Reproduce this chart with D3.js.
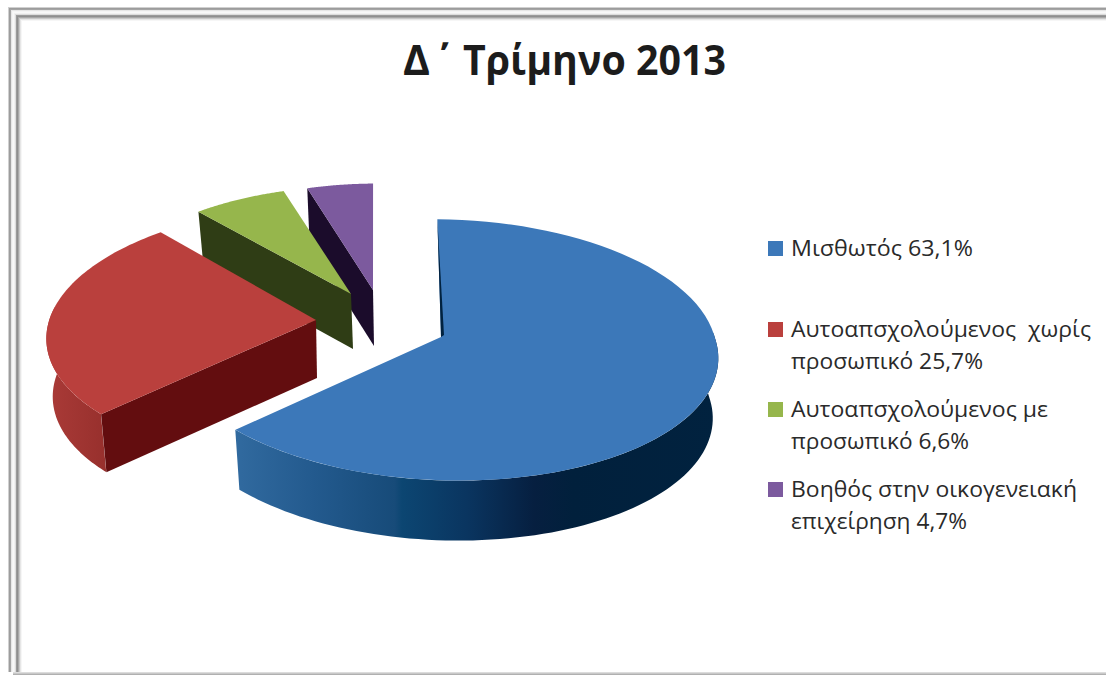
<!DOCTYPE html>
<html><head><meta charset="utf-8">
<script src="https://cdn.jsdelivr.net/npm/d3@7/dist/d3.min.js"></script>
<style>html,body{margin:0;padding:0;background:#fff}svg{display:block}text{white-space:pre}</style>
</head><body><svg id="c" width="1106" height="675"></svg>
<script>
const titleHead = "Δ";
const titleMark = "΄ ";
const titleTail = "Τρίμηνο 2013";
const categories = ["Μισθωτός","Αυτοαπσχολούμενος χωρίς προσωπικό","Αυτοαπσχολούμενος με προσωπικό","Βοηθός στην οικογενειακή επιχείρηση"];
const shares = [63.1,25.7,6.6,4.7];
const topColors = ["#3c78b9","#ba403d","#96b64c","#7c5a9e"];
const wallColors = ["#01223f","#630d0f","#2f3d15","#1b0c2b"];
const legendLines = [["Μισθωτός 63,1%"],["Αυτοαπσχολούμενος  χωρίς","προσωπικό 25,7%"],["Αυτοαπσχολούμενος με","προσωπικό 6,6%"],["Βοηθός στην οικογενειακή","επιχείρηση 4,7%"]];

// layout
const W=1106,H=675;
const slicesLayout=[
 {ax:441,ay:337,s:.995,depth:60,front:18,back:8,rot:2,dx:-1,wall:[88,228]},
 {ax:316,ay:320,s:.97,depth:58,front:-13,back:-13,rot:0,dx:0,wall:[226,276]},
 {ax:351,ay:294,s:.91,depth:55,front:-3,back:-3,rot:0,dx:1,wall:null},
 {ax:373,ay:290,s:.9,depth:56,front:-4,back:-4,rot:0,dx:0,wall:null}
];
const svg=d3.select("#c"), defs=svg.append("defs");
svg.append("rect").attr("width",W).attr("height",H).attr("fill","#fff");

// projection of the disk (perspective)
const Rx=275,Ry=130,K=0.099;
function project(L,th){
  const t=th+L.rot*Math.PI/180;
  const u=Math.sin(t),v=-Math.cos(t),d=1-K*v;
  const x=L.s*Rx*u/d+(v>0?L.front:L.back)*v, y=L.s*Ry*v/d;
  return [L.ax+x,L.ay+y];
}
function lower(L,p){
  const dx=p[0]-L.ax;
  return [L.ax+dx*.98+1+L.dx,p[1]+L.depth];
}
const off=-1*Math.PI/180;
const pie=d3.pie().sort(null).value(d=>d).startAngle(off).endAngle(2*Math.PI+off);
const arcs=pie(shares);
const line=d3.line();
const rim=(L,a0,a1)=>d3.range(0,81).map(i=>project(L,a0+(a1-a0)*i/80));

// gradients for the outer walls
const gradBlue=defs.append("linearGradient").attr("id","gBlue").attr("gradientUnits","userSpaceOnUse").attr("x1",236).attr("x2",717).attr("y1",0).attr("y2",0);
[[0,"#316a9f"],[.16,"#235a8e"],[.33,"#174b79"],[.345,"#0c4672"],[.48,"#0a3560"],[.62,"#061f40"],[.70,"#01203c"],[1,"#01223f"]].forEach(s=>gradBlue.append("stop").attr("offset",s[0]).attr("stop-color",s[1]));
const gradRed=defs.append("linearGradient").attr("id","gRed").attr("gradientUnits","userSpaceOnUse").attr("x1",50).attr("x2",104).attr("y1",0).attr("y2",0);
[[0,"#a93a37"],[1,"#98302d"]].forEach(s=>gradRed.append("stop").attr("offset",s[0]).attr("stop-color",s[1]));
const wallFill=["url(#gBlue)","url(#gRed)",null,null];

// draw from the back slice to the front slice
[3,2,1,0].forEach(i=>{
  const a=arcs[i],L=slicesLayout[i],g=svg.append("g");
  const apex=[L.ax,L.ay],start=project(L,a.startAngle);
  if(L.wall){
    const r=rim(L,(L.wall[0]-L.rot)*Math.PI/180,(L.wall[1]-L.rot)*Math.PI/180);
    g.append("path").attr("d",line(r.concat(r.map(p=>lower(L,p)).reverse()))+"Z").attr("fill",wallFill[i]);
  }
  if(i>0){
    const q=[apex,start,lower(L,start),lower(L,apex)];
    g.append("path").attr("d",line(q)+"Z").attr("fill",wallColors[i]);
  }
  const top=[apex].concat(rim(L,a.startAngle,a.endAngle));
  g.append("path").attr("d",line(top)+"Z").attr("fill",topColors[i]);
  if(i===0){
    g.append("path").attr("d",line([start,apex,[apex[0]+3,apex[1]-2]])+"Z").attr("fill",wallColors[0]);
  }
});

// title
const fontFam="'Open Sans','Noto Sans',sans-serif";
const tt=svg.append("text").attr("y",75).attr("font-family",fontFam).attr("font-weight",700).attr("font-size",41).attr("fill","#1c1c1c");
tt.append("tspan").attr("x",403).text(titleHead);
tt.append("tspan").attr("x",431.5).text(titleMark);
tt.append("tspan").attr("x",463).attr("textLength",263).attr("lengthAdjust","spacingAndGlyphs").text(titleTail);

// legend
const swatchY=[241,322,402,482];
const baseY=[[256],[337,369],[417,449],[497,529]];
const lineW=[[182],[300,192],[257,178],[286,176]];
legendLines.forEach((ls,i)=>{
  svg.append("rect").attr("x",768).attr("y",swatchY[i]).attr("width",15).attr("height",15).attr("fill",topColors[i]);
  ls.forEach((t,j)=>{
    svg.append("text").text(t).attr("x",791).attr("y",baseY[i][j])
      .attr("font-family",fontFam).attr("font-size",21)
      .attr("textLength",lineW[i][j]).attr("lengthAdjust","spacingAndGlyphs").attr("fill","#2a2a2a");
  });
});

// bevelled frame
const frameH=[[7,"#d0d0d0"],[8,"#9c9c9c"],[9,"#a4a4a4"],[10,"#e6e6e6"],[11,"#f4f4f4"],[12,"#f8f8f8"],[13,"#f0f0f0"],[14,"#dcdcdc"],[15,"#9a9a9a"],[16,"#8e8e8e"],[17,"#a8a8a8"],[18,"#c8c8c8"],[19,"#e6e6e6"],[20,"#f6f6f6"]];
frameH.forEach(f=>{
  svg.append("rect").attr("x",f[0]+1).attr("y",f[0]).attr("width",W).attr("height",1).attr("fill",f[1]);
  svg.append("rect").attr("x",f[0]+1).attr("y",f[0]).attr("width",1).attr("height",H-f[0]-3).attr("fill",f[1]);
});
[[672,"#dcdcdc"],[673,"#c8c8c8"],[674,"#b0b0b0"]].forEach(f=>{
  svg.append("rect").attr("x",13).attr("y",f[0]).attr("width",W).attr("height",1).attr("fill",f[1]);
});
</script></body></html>
